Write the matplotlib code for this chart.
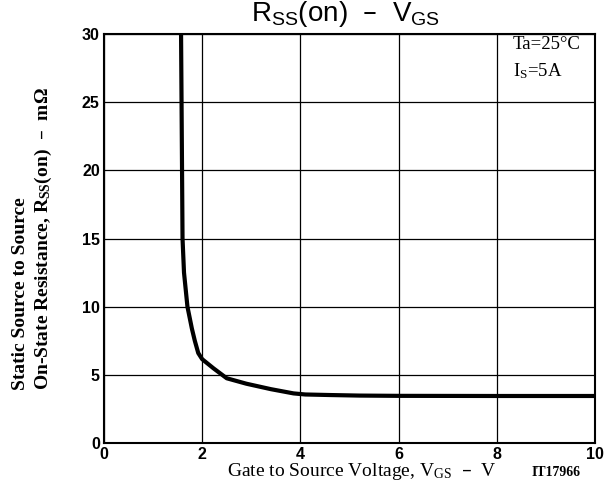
import numpy as np
import matplotlib.pyplot as plt

plt.rcParams['mathtext.default'] = 'regular'

# curve
vgs = [1.57, 1.58, 1.59, 1.60, 1.63, 1.70, 1.79, 1.85, 1.92, 2.00, 2.23,
       2.50, 2.90, 3.40, 3.86, 4.10, 4.60, 5.20, 6.00, 8.00, 10.00]
rds = [30.0, 25.0, 20.0, 15.0, 12.5, 10.0, 8.4, 7.5, 6.6, 6.15, 5.48,
       4.75, 4.35, 3.95, 3.64, 3.56, 3.52, 3.48, 3.46, 3.45, 3.45]

xticks = [0, 2, 4, 6, 8, 10]
yticks = [0, 5, 10, 15, 20, 25, 30]

fig = plt.figure(figsize=(6.08, 4.98), dpi=100)
ax = fig.add_axes([0.171, 0.1104, 0.8076, 0.8213])

ax.plot(vgs, rds, color='black', lw=3.0, solid_capstyle='butt')

ax.set_xlim(0, 10)
ax.set_ylim(0, 30)
ax.set_xticks(xticks)
ax.set_yticks(yticks)
ax.grid(True, color='black', lw=0.9)
ax.tick_params(length=0, pad=3)
for lab in ax.get_xticklabels() + ax.get_yticklabels():
    lab.set_fontfamily('Liberation Sans')
    lab.set_fontweight('bold')
    lab.set_fontsize(11.5)
for s in ax.spines.values():
    s.set_linewidth(1.5)

serif = 'Liberation Serif'
fig.text(0.8438, 0.910, 'Ta=25°C', ha='left', va='center',
         family=serif, fontsize=13.5)
fig.text(0.8438, 0.858, 'I$_S$=5A', ha='left', va='center',
         family=serif, fontsize=13.5)

fig.text(0.569, 0.972, 'R$_{SS}$(on)  \u2013  V$_{GS}$', ha='center', va='center',
         family='Liberation Sans', fontsize=20)

fig.text(0.595, 0.044, 'Gate to Source Voltage, V$_{GS}$  \u2013  V', ha='center',
         va='baseline', family=serif, fontsize=14)
fig.text(0.915, 0.044, 'IT17966', ha='center', va='baseline', family=serif,
         fontsize=10, fontweight='bold')

fig.text(0.054, 0.217, 'Static Source to Source\nOn-State Resistance, R$_{SS}$(on)  \u2013  m\u03a9',
         ha='center', va='bottom', rotation=90, multialignment='left',
         family=serif, fontsize=14, fontweight='bold', linespacing=1.25)

fig.savefig('out.png', dpi=100)
